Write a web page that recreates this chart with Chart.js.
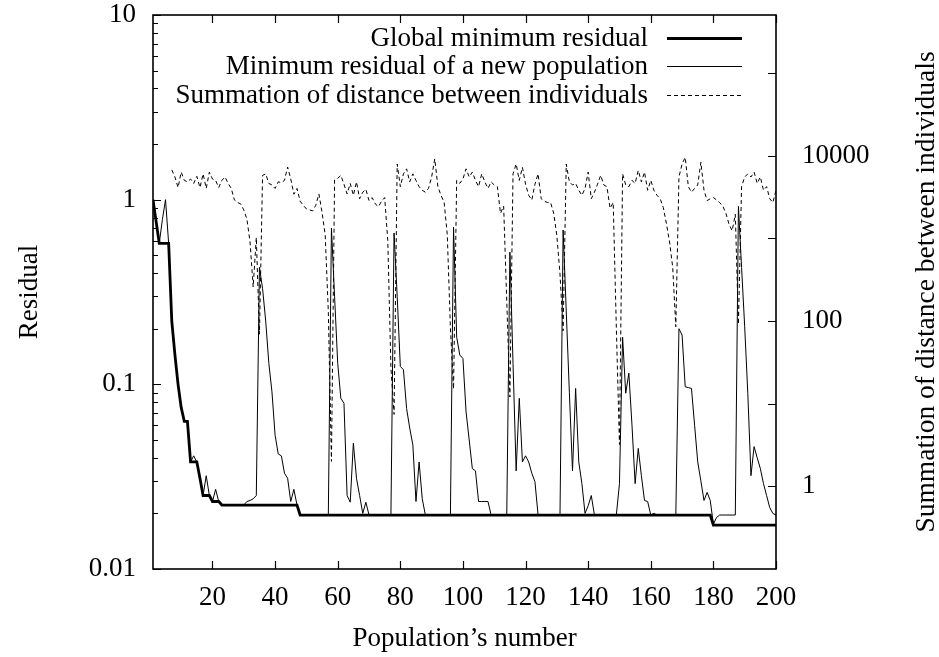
<!DOCTYPE html>
<html><head><meta charset="utf-8">
<script src="https://cdn.jsdelivr.net/npm/chart.js@4/dist/chart.umd.min.js"></script>
<style>html,body{margin:0;padding:0;background:#fff}canvas{display:block}</style>
</head><body>
<canvas id="c" width="939" height="657"></canvas>
<script>
// ---- data (population number runs 1..200) ----
const xTickValues = [20, 40, 60, 80, 100, 120, 140, 160, 180, 200];
const residualTickValues = [0.01, 0.1, 1, 10];
const distanceTickValues = [1, 10, 100, 1000, 10000, 100000];
const distanceLabelValues = [1, 100, 10000];
const seriesNames = ['Global minimum residual', 'Minimum residual of a new population', 'Summation of distance between individuals'];

const globalMin = [
  1.0, 0.76, 0.58, 0.58, 0.58, 0.58, 0.22, 0.145, 0.10, 0.075,
  0.063, 0.063, 0.038, 0.038, 0.038, 0.031, 0.025, 0.025, 0.025, 0.0232,
  0.0232, 0.0232, 0.0222, 0.0222, 0.0222, 0.0222, 0.0222, 0.0222, 0.0222, 0.0222,
  0.0222, 0.0222, 0.0222, 0.0222, 0.0222, 0.0222, 0.0222, 0.0222, 0.0222, 0.0222,
  0.0222, 0.0222, 0.0222, 0.0222, 0.0222, 0.0222, 0.0222, 0.0196, 0.0196, 0.0196,
  0.0196, 0.0196, 0.0196, 0.0196, 0.0196, 0.0196, 0.0196, 0.0196, 0.0196, 0.0196,
  0.0196, 0.0196, 0.0196, 0.0196, 0.0196, 0.0196, 0.0196, 0.0196, 0.0196, 0.0196,
  0.0196, 0.0196, 0.0196, 0.0196, 0.0196, 0.0196, 0.0196, 0.0196, 0.0196, 0.0196,
  0.0196, 0.0196, 0.0196, 0.0196, 0.0196, 0.0196, 0.0196, 0.0196, 0.0196, 0.0196,
  0.0196, 0.0196, 0.0196, 0.0196, 0.0196, 0.0196, 0.0196, 0.0196, 0.0196, 0.0196,
  0.0196, 0.0196, 0.0196, 0.0196, 0.0196, 0.0196, 0.0196, 0.0196, 0.0196, 0.0196,
  0.0196, 0.0196, 0.0196, 0.0196, 0.0196, 0.0196, 0.0196, 0.0196, 0.0196, 0.0196,
  0.0196, 0.0196, 0.0196, 0.0196, 0.0196, 0.0196, 0.0196, 0.0196, 0.0196, 0.0196,
  0.0196, 0.0196, 0.0196, 0.0196, 0.0196, 0.0196, 0.0196, 0.0196, 0.0196, 0.0196,
  0.0196, 0.0196, 0.0196, 0.0196, 0.0196, 0.0196, 0.0196, 0.0196, 0.0196, 0.0196,
  0.0196, 0.0196, 0.0196, 0.0196, 0.0196, 0.0196, 0.0196, 0.0196, 0.0196, 0.0196,
  0.0196, 0.0196, 0.0196, 0.0196, 0.0196, 0.0196, 0.0196, 0.0196, 0.0196, 0.0196,
  0.0196, 0.0196, 0.0196, 0.0196, 0.0196, 0.0196, 0.0196, 0.0196, 0.0196, 0.0173,
  0.0173, 0.0173, 0.0173, 0.0173, 0.0173, 0.0173, 0.0173, 0.0173, 0.0173, 0.0173,
  0.0173, 0.0173, 0.0173, 0.0173, 0.0173, 0.0173, 0.0173, 0.0173, 0.0173, 0.0173
];

const newPopulationMin = [
  1.0, 0.76, 0.58, 0.78, 1.0, 0.58, 0.22, 0.145, 0.10, 0.075,
  0.063, 0.063, 0.038, 0.041, 0.038, 0.031, 0.025, 0.032, 0.025, 0.0232,
  0.027, 0.0232, 0.0222, 0.0222, 0.0222, 0.0222, 0.0222, 0.0222, 0.0222, 0.0222,
  0.0232, 0.0235, 0.024, 0.025, 0.43, 0.33, 0.22, 0.13, 0.091, 0.053,
  0.042, 0.041, 0.033, 0.031, 0.0232, 0.027, 0.0222, 0.0196, 0.0196, 0.0196,
  0.0196, 0.0196, 0.0196, 0.0196, 0.0196, 0.0196, 0.0196, 0.70, 0.30, 0.13,
  0.084, 0.079, 0.025, 0.023, 0.048, 0.031, 0.025, 0.020, 0.023, 0.0196,
  0.0196, 0.0196, 0.0196, 0.0196, 0.0196, 0.0196, 0.0196, 0.66, 0.30, 0.125,
  0.12, 0.074, 0.058, 0.047, 0.0232, 0.038, 0.024, 0.0196, 0.0196, 0.0196,
  0.0196, 0.0196, 0.0196, 0.0196, 0.0196, 0.0196, 0.71, 0.18, 0.144, 0.138,
  0.071, 0.050, 0.035, 0.034, 0.0232, 0.0232, 0.0232, 0.0232, 0.0196, 0.0196,
  0.0196, 0.0196, 0.0196, 0.0196, 0.52, 0.13, 0.034, 0.084, 0.038, 0.041,
  0.038, 0.033, 0.0297, 0.0196, 0.0196, 0.0196, 0.0196, 0.0196, 0.0196, 0.0196,
  0.0196, 0.685, 0.25, 0.09, 0.034, 0.095, 0.038, 0.029, 0.020, 0.022,
  0.025, 0.0196, 0.0196, 0.0196, 0.0196, 0.0196, 0.0196, 0.0196, 0.0196, 0.029,
  0.18, 0.0895, 0.115, 0.06, 0.029, 0.045, 0.032, 0.0235, 0.0232, 0.0196,
  0.0200, 0.0196, 0.0196, 0.0196, 0.0196, 0.0196, 0.0196, 0.0196, 0.20, 0.185,
  0.097, 0.096, 0.095, 0.06, 0.038, 0.030, 0.0235, 0.026, 0.0235, 0.0175,
  0.019, 0.0196, 0.0196, 0.0196, 0.0196, 0.0196, 0.0196, 0.92, 0.43, 0.205,
  0.089, 0.032, 0.046, 0.040, 0.035, 0.029, 0.025, 0.0215, 0.0200, 0.0196
];

const distanceSum = [
  null, null, null, null, null, null, 6700, 5500, 4100, 6300,
  5000, 4800, 5200, 4600, 5600, 4100, 6000, 4000, 6300, 5200,
  5000, 4100, 5000, 5500, 4600, 4000, 2900, 2700, 2600, 2200,
  1700, 900, 257, 1020, 69, 5750, 6000, 4600, 4400, 4000,
  4800, 4700, 5000, 7260, 5200, 3400, 4000, 2800, 2500, 2260,
  2200, 2140, 2500, 3430, 2050, 1100, 130, 2.0, 5070, 5300,
  5750, 4500, 3430, 4600, 3300, 4800, 3000, 3600, 3900, 2850,
  3100, 2600, 2400, 2800, 3100, 930, 27, 7.4, 7900, 4200,
  6000, 6900, 4800, 6000, 5000, 4200, 3800, 3600, 4000, 5500,
  9100, 4200, 3300, 2700, 1100, 83, 15, 5000, 4600, 5200,
  6900, 5500, 6300, 5000, 4200, 6000, 4800, 4000, 4800, 4400,
  4200, 2000, 2450, 174, 12, 6000, 7900, 5000, 7200, 4500,
  3300, 2900, 4500, 6000, 3000, 2800, 2700, 2700, 2000, 1070,
  370, 76, 7900, 4800, 4400, 4600, 3800, 3300, 4000, 6300,
  3000, 3600, 4500, 5750, 4400, 4200, 2300, 2700, 83, 3.2,
  6000, 4400, 4200, 5000, 4600, 6600, 4800, 6300, 3800, 5000,
  3800, 3300, 3000, 2350, 1500, 900, 450, 85, 5500, 7900,
  9500, 4200, 3600, 4000, 4400, 8300, 3800, 2850, 3000, 3100,
  2900, 2700, 2450, 2000, 1480, 1230, 1950, 91, 4200, 5500,
  6000, 5500, 6300, 4600, 5500, 3800, 4200, 3000, 2700, 3800
];

// ---- build points (x = population number = index + 1) ----
const toPoints = arr => arr.map((v, i) => ({x: i + 1, y: v}));

const FONT = {family: "'Liberation Serif', 'Times New Roman', serif", size: 27};
Chart.defaults.font.family = FONT.family;
Chart.defaults.font.size = FONT.size;
Chart.defaults.color = '#000';

const insidePlugin = {
  id: 'insideDecor',
  afterDraw(chart) {
    const {ctx, chartArea: a, scales} = chart;
    ctx.save();
    ctx.strokeStyle = '#000';
    ctx.lineWidth = 1.2;
    const major = 8, minor = 5;
    ctx.beginPath();
    // x ticks, bottom and mirrored top
    scales.x.ticks.forEach(t => {
      const px = Math.round(scales.x.getPixelForValue(t.value)) + 0.5;
      ctx.moveTo(px, a.bottom); ctx.lineTo(px, a.bottom - major);
      ctx.moveTo(px, a.top); ctx.lineTo(px, a.top + major);
    });
    // left log axis: major + minor
    const ys = scales.y;
    for (let e = Math.floor(Math.log10(ys.min)); e <= Math.ceil(Math.log10(ys.max)); e++) {
      for (let m = 1; m <= 9; m++) {
        const v = m * Math.pow(10, e);
        if (v < ys.min * 0.999 || v > ys.max * 1.001) continue;
        const py = Math.round(ys.getPixelForValue(v)) + 0.5;
        ctx.moveTo(a.left, py); ctx.lineTo(a.left + (m === 1 ? major : minor), py);
      }
    }
    // right log axis: decades
    const y2 = scales.y2;
    y2.ticks.forEach(t => {
      const py = Math.round(y2.getPixelForValue(t.value)) + 0.5;
      ctx.moveTo(a.right, py); ctx.lineTo(a.right - major, py);
    });
    ctx.stroke();
    // frame
    ctx.lineWidth = 1.6;
    ctx.strokeRect(a.left, a.top, a.right - a.left, a.bottom - a.top);

    // legend inside the plot, top right
    ctx.font = FONT.size + 'px ' + FONT.family;
    ctx.fillStyle = '#000';
    ctx.textAlign = 'right';
    ctx.textBaseline = 'middle';
    chart.data.datasets.forEach((ds, i) => {
      const y = a.top + 23 + i * 28.3;
      ctx.fillText(ds.label, a.left + 495, y + 1);
      ctx.beginPath();
      ctx.lineWidth = ds.borderWidth;
      ctx.setLineDash(ds.borderDash || []);
      ctx.moveTo(a.left + 514, Math.round(y) + 0.5);
      ctx.lineTo(a.left + 589, Math.round(y) + 0.5);
      ctx.stroke();
      ctx.setLineDash([]);
    });

    // right axis title, reading bottom-to-top
    ctx.save();
    ctx.font = '27.5px ' + FONT.family;
    ctx.translate(927, (a.top + a.bottom) / 2);
    ctx.rotate(-Math.PI / 2);
    ctx.textAlign = 'center';
    ctx.textBaseline = 'middle';
    ctx.fillText(seriesNames[2], 0, 0);
    ctx.restore();
    ctx.restore();
  }
};

new Chart(document.getElementById('c'), {
  type: 'line',
  data: {
    datasets: [
      {label: seriesNames[0], data: toPoints(globalMin), yAxisID: 'y', borderColor: '#000', borderWidth: 2.8, pointRadius: 0, fill: false},
      {label: seriesNames[1], data: toPoints(newPopulationMin), yAxisID: 'y', borderColor: '#000', borderWidth: 1, pointRadius: 0, fill: false},
      {label: seriesNames[2], data: toPoints(distanceSum), yAxisID: 'y2', borderColor: '#000', borderWidth: 1, borderDash: [4, 3], pointRadius: 0, fill: false}
    ]
  },
  options: {
    responsive: false,
    animation: false,
    devicePixelRatio: 1,
    layout: {padding: {top: 15, left: 0, right: 0, bottom: 0}},
    plugins: {legend: {display: false}, tooltip: {enabled: false}},
    elements: {line: {tension: 0}, point: {radius: 0}},
    scales: {
      x: {
        type: 'linear', min: 1, max: 200,
        afterBuildTicks: s => { s.ticks = xTickValues.map(v => ({value: v})); },
        afterFit: s => { s.height = 88; s.paddingLeft = 0; s.paddingRight = 0; },
        grid: {display: false}, border: {display: false},
        ticks: {padding: 5, maxRotation: 0, autoSkip: false, color: '#000', callback: v => String(v)},
        title: {display: true, text: 'Population’s number', color: '#000', padding: {top: 0, bottom: 2}}
      },
      y: {
        type: 'logarithmic', position: 'left', min: 0.01, max: 10,
        afterBuildTicks: s => { s.ticks = residualTickValues.map(v => ({value: v})); },
        afterFit: s => { s.width = 153; s.paddingTop = 0; s.paddingBottom = 0; },
        grid: {display: false}, border: {display: false},
        ticks: {padding: 9, color: '#000', callback: v => String(v)},
        title: {display: true, text: 'Residual', color: '#000', padding: {top: 14, bottom: 0}}
      },
      y2: {
        type: 'logarithmic', position: 'right', min: 0.1, max: 500000,
        afterBuildTicks: s => { s.ticks = distanceTickValues.map(v => ({value: v})); },
        afterFit: s => { s.width = 163; s.paddingTop = 0; s.paddingBottom = 0; },
        grid: {display: false}, border: {display: false},
        ticks: {padding: 18, color: '#000', callback: v => distanceLabelValues.includes(v) ? String(v) : ''}
      }
    }
  },
  plugins: [insidePlugin]
});
</script>
</body></html>
